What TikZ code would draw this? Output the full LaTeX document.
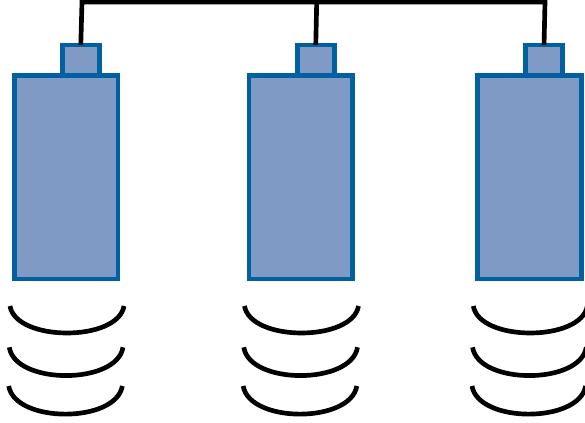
\documentclass[tikz,border=0pt]{standalone}
\usepackage{tikz}
\usetikzlibrary{positioning}
\definecolor{cellFill}{RGB}{127,155,197}
\definecolor{cellEdge}{RGB}{0,96,160}

\begin{document}
\begin{tikzpicture}[
    x=0.75pt, y=-0.75pt,
    cell/.style={rectangle, draw=cellEdge, line width=3.6pt, fill=cellFill, outer sep=0pt, inner sep=0pt, minimum width=77.5pt, minimum height=152.5pt},
    cellCap/.style={rectangle, draw=cellEdge, line width=3.6pt, fill=cellFill, outer sep=0pt, inner sep=0pt, minimum width=27.5pt, minimum height=23pt},
    wire/.style={line width=3.5pt, black, line join=miter},
    coil/.style={line width=3.5pt, black}
]
\useasboundingbox (0,0) rectangle (585,423);
% cells
\node[cell] (cellA) at (66.25,177.25) {};
\node[cell] (cellB) at (300.7,177.25) {};
\node[cell] (cellC) at (529.5,177.25) {};

% caps on top of the cells
\node[cellCap, above=0pt of cellA, xshift=10.9pt] (capA) {};
\node[cellCap, above=0pt of cellB, xshift=11.3pt] (capB) {};
\node[cellCap, above=0pt of cellC, xshift=10.9pt] (capC) {};

% top wire
\coordinate (topA) at (82,2);
\coordinate (topB) at (316.7,2);
\coordinate (topC) at (545,2);
\draw[wire] (capA.north) -- (topA) -- (topC) -- (capC.north);
\draw[wire] (capB.north) -- (topB);

% coils under cell A
\draw[coil] (10,306) .. controls (16,342) and (118,342) .. (124,306);
\draw[coil] (9.3,347.3) .. controls (15,385) and (117,385) .. (123,347.3);
\draw[coil] (8.7,386) .. controls (15,423.5) and (116,423.5) .. (122.3,386);

% coils under cell B
\draw[coil] (244.5,306) .. controls (250.5,342) and (352.5,342) .. (358.5,306);
\draw[coil] (243.8,347.3) .. controls (249.5,385) and (351.5,385) .. (357.5,347.3);
\draw[coil] (243.2,386) .. controls (249.5,423.5) and (350.5,423.5) .. (356.8,386);

% coils under cell C
\draw[coil] (473.3,306) .. controls (479.3,342) and (581.3,342) .. (587.3,306);
\draw[coil] (472.6,347.3) .. controls (478.3,385) and (580.3,385) .. (586.3,347.3);
\draw[coil] (472,386) .. controls (478.3,423.5) and (579.3,423.5) .. (585.6,386);
\end{tikzpicture}
\end{document}
